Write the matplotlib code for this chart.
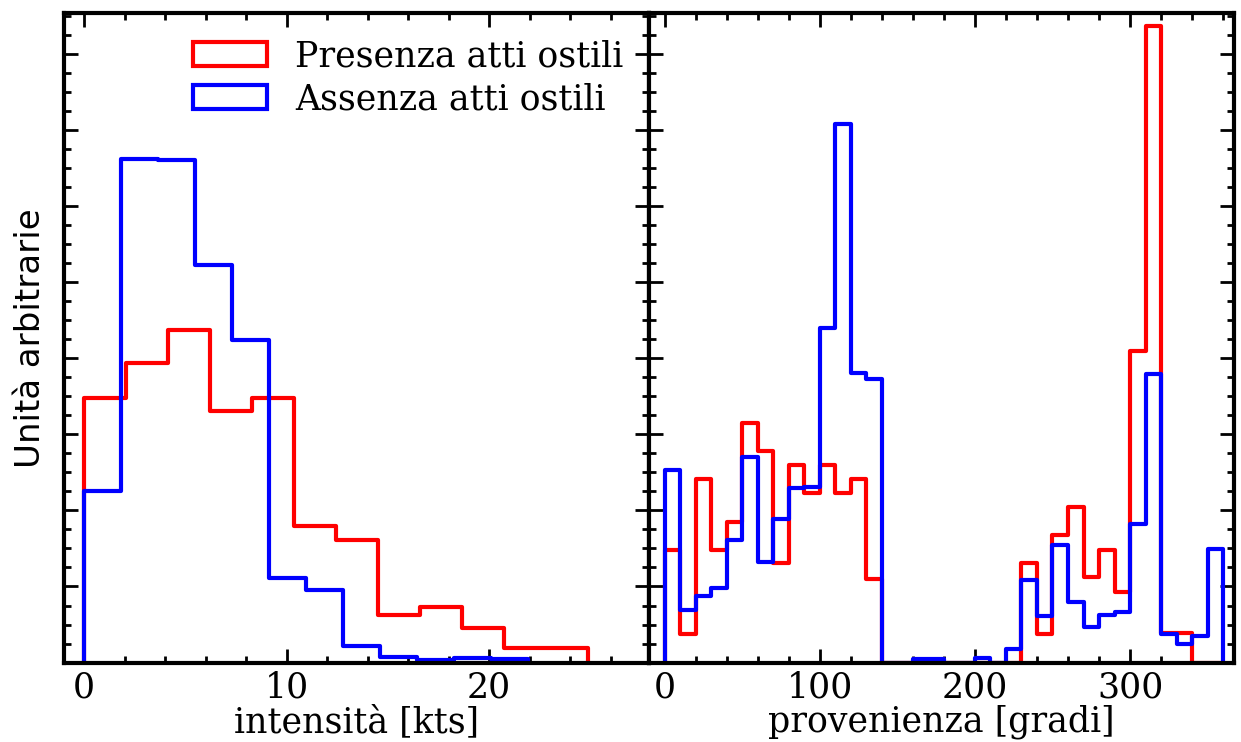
import numpy as np
import matplotlib
matplotlib.use("Agg")
import matplotlib.pyplot as plt
from matplotlib.ticker import MultipleLocator

plt.rcParams['font.family'] = 'DejaVu Serif'
plt.rcParams['font.size'] = 25

# --- intensita' del vento [kts], 12 classi per serie
int_edges_pres = np.linspace(0, 24.9, 13)
int_edges_ass = np.linspace(0, 21.9, 13)
int_presenza = [3.48, 3.93, 4.37, 3.31, 3.48, 1.80, 1.61, 0.63, 0.73, 0.45, 0.19, 0.19]
int_assenza = [2.26, 6.61, 6.60, 5.22, 4.24, 1.11, 0.96, 0.22, 0.07, 0.03, 0.066, 0.045]

# --- provenienza [gradi], classi da 10 gradi
dir_edges = np.arange(0, 370, 10)
dir_presenza = [1.48, 0.38, 2.41, 1.48, 1.85, 3.15, 2.78, 1.31, 2.59, 2.23,
                2.59, 2.23, 2.41, 1.10, 0, 0, 0, 0, 0, 0,
                0, 0, 0, 1.31, 0.38, 1.67, 2.04, 1.13, 1.48, 0.93,
                4.09, 8.37, 0.39, 0.39, 0, 0]
dir_assenza = [2.53, 0.69, 0.87, 0.98, 1.61, 2.70, 1.32, 1.89, 2.29, 2.31,
               4.40, 7.08, 3.80, 3.72, 0, 0, 0.045, 0.045, 0, 0,
               0.06, 0, 0.18, 1.08, 0.61, 1.54, 0.79, 0.47, 0.62, 0.66,
               1.82, 3.79, 0.38, 0.25, 0.35, 1.49]

labels = ['Presenza atti ostili', 'Assenza atti ostili']

fig, (ax1, ax2) = plt.subplots(1, 2, sharey=True, figsize=(12.41, 7.42), dpi=100)
fig.subplots_adjust(left=0.0516, right=0.9944, bottom=0.107, top=0.982, wspace=0)

lw = 3
ax1.hist(int_edges_pres[:-1], bins=int_edges_pres, weights=int_presenza, histtype='step',
         color='red', lw=lw, joinstyle='round', label=labels[0])
ax1.hist(int_edges_ass[:-1], bins=int_edges_ass, weights=int_assenza, histtype='step',
         color='blue', lw=lw, joinstyle='round', label=labels[1])

ax2.hist(dir_edges[:-1], bins=dir_edges, weights=dir_presenza, histtype='step',
         color='red', lw=lw, joinstyle='round')
ax2.hist(dir_edges[:-1], bins=dir_edges, weights=dir_assenza, histtype='step',
         color='blue', lw=lw, joinstyle='round')

ax1.set_xlim(-1, 27.9)
ax2.set_xlim(-10, 367)
ax1.set_ylim(0, 8.53)

ax1.xaxis.set_major_locator(MultipleLocator(10))
ax1.xaxis.set_minor_locator(MultipleLocator(2))
ax2.xaxis.set_major_locator(MultipleLocator(100))
ax2.xaxis.set_minor_locator(MultipleLocator(20))
for ax in (ax1, ax2):
    ax.yaxis.set_major_locator(MultipleLocator(1))
    ax.yaxis.set_minor_locator(MultipleLocator(0.25))
    ax.tick_params(which='both', direction='in', top=True, right=True, labelleft=False, width=2)
    ax.tick_params(which='major', length=10)
    ax.tick_params(which='minor', length=5)
    ax.tick_params(axis='x', pad=6)
    for s in ax.spines.values():
        s.set_linewidth(3)

ax1.set_xlabel('intensità [kts]', labelpad=0)
ax2.set_xlabel('provenienza [gradi]', labelpad=0)
ax1.set_ylabel('Unità arbitrarie', family='DejaVu Sans', fontsize=24.5, labelpad=12)

ax1.legend(loc='upper right', frameon=False, handlelength=2.13, handletextpad=0.8,
           labelspacing=0.25, borderaxespad=0.45, borderpad=0.3)

fig.savefig('out.png', dpi=100)
